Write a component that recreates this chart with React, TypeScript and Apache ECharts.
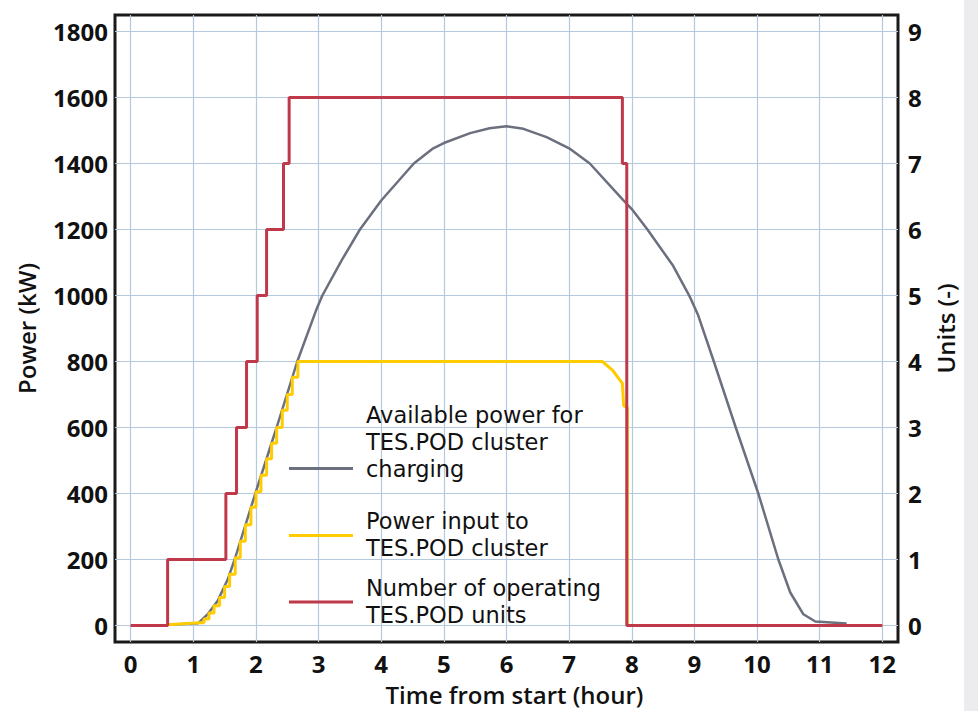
import React, { useEffect, useRef } from 'react';
import * as echarts from 'echarts';

const hourTicks = [0, 1, 2, 3, 4, 5, 6, 7, 8, 9, 10, 11, 12];
const powerTicks = [0, 200, 400, 600, 800, 1000, 1200, 1400, 1600, 1800];
const unitTicks = [0, 1, 2, 3, 4, 5, 6, 7, 8, 9];

// Available power for TES.POD cluster charging [hour, kW]
const availablePower: [number, number][] = [
  [0.59, 2], [1.08, 7], [1.23, 34], [1.39, 75], [1.55, 140], [1.66, 200],
  [1.99, 400], [2.33, 600], [2.66, 800], [2.96, 955], [3.06, 1000], [3.37, 1107],
  [3.66, 1200], [4.0, 1288], [4.52, 1400], [4.83, 1446], [5.0, 1462], [5.42, 1492],
  [5.73, 1507], [6.0, 1513], [6.27, 1505], [6.64, 1480], [7.0, 1446], [7.33, 1400],
  [7.86, 1290], [8.0, 1262], [8.25, 1200], [8.66, 1090], [8.93, 995], [9.06, 940],
  [9.31, 800], [9.66, 600], [10.02, 400], [10.34, 200], [10.53, 100], [10.74, 34],
  [10.93, 12], [11.43, 6],
];

// Power input to TES.POD cluster
const inputStart: [number, number][] = [[0.59, 2], [1.09, 8]];
const inputStepTimes = [1.17, 1.25, 1.33, 1.42, 1.5, 1.58, 1.67, 1.75, 1.83, 1.92, 2.0, 2.08, 2.17, 2.25, 2.33, 2.42, 2.5, 2.58, 2.67];
const inputStepValues = [20, 38, 60, 85, 118, 155, 205, 255, 305, 358, 405, 455, 505, 552, 600, 652, 700, 752, 800];
const inputEnd: [number, number][] = [
  [7.53, 800], [7.7, 772], [7.85, 734], [7.87, 666], [7.93, 660], [7.93, 0], [12, 0],
];

// Number of operating TES.POD units (step changes)
const unitTimes = [0, 0.59, 1.52, 1.69, 1.85, 2.02, 2.17, 2.44, 2.53, 7.85, 7.92, 12];
const unitCounts = [0, 1, 2, 3, 4, 5, 6, 7, 8, 7, 0, 0];

const legendItems = [
  { text: 'Available power for\nTES.POD cluster\ncharging', color: '#6b6f7e' },
  { text: 'Power input to\nTES.POD cluster', color: '#ffcc00' },
  { text: 'Number of operating\nTES.POD units', color: '#c0394a' },
];

const FONT = '"Open Sans", Roboto, sans-serif';
const LEGEND_FONT = '"DejaVu Sans", sans-serif';

function buildInput(): [number, number][] {
  const pts: [number, number][] = [...inputStart];
  let prev = inputStart[inputStart.length - 1][1];
  inputStepTimes.forEach((t, i) => {
    pts.push([t, prev]);
    pts.push([t, inputStepValues[i]]);
    prev = inputStepValues[i];
  });
  return pts.concat(inputEnd);
}

export default function App() {
  const ref = useRef<HTMLDivElement>(null);
  useEffect(() => {
    if (!ref.current) return;
    const chart = echarts.init(ref.current, null, { renderer: 'svg' });
    const tickLabel = {
      fontFamily: FONT, fontSize: 24, fontWeight: 'bold' as const, color: '#111',
      formatter: (v: number) => String(v),
    };
    const nameStyle = { fontFamily: FONT, fontSize: 24, fontWeight: 600 as any, color: '#111' };

    const legendGraphics: any[] = [];
    const lineYs = [468.5, 535.5, 602];
    const textTops = [401.5, 507.5, 574.5];
    legendItems.forEach((item, i) => {
      legendGraphics.push({
        type: 'line',
        shape: { x1: 289, y1: lineYs[i], x2: 353, y2: lineYs[i] },
        style: { stroke: item.color, lineWidth: 3 },
        z: 100,
      });
      legendGraphics.push({
        type: 'text',
        x: 366,
        y: textTops[i],
        style: {
          text: item.text,
          fill: '#111',
          font: `400 22.5px ${LEGEND_FONT}`,
          lineHeight: 27,
          textAlign: 'left',
          verticalAlign: 'top',
        },
        z: 100,
      });
    });

    chart.setOption({
      animation: false,
      backgroundColor: '#ffffff',
      grid: {
        left: 115, right: 80, top: 15, bottom: 67,
        show: true, borderColor: '#1a1a1a', borderWidth: 3, backgroundColor: 'transparent',
      },
      xAxis: {
        type: 'value', min: -0.25, max: 12.25,
        axisLine: { show: false },
        axisTick: { show: false, customValues: hourTicks },
        axisLabel: { ...tickLabel, customValues: hourTicks, margin: 9 },
        splitLine: { show: true, lineStyle: { color: '#b4c9de', width: 1.2 } },
        name: 'Time from start (hour)', nameLocation: 'middle', nameGap: 40,
        nameTextStyle: { ...nameStyle, padding: [0, 0, 0, 16] },
      },
      yAxis: [
        {
          type: 'value', min: -50, max: 1850, position: 'left',
          axisLine: { show: false },
          axisTick: { show: false, customValues: powerTicks },
          axisLabel: { ...tickLabel, customValues: powerTicks, margin: 7 },
          splitLine: { show: true, lineStyle: { color: '#b4c9de', width: 1.2 } },
          name: 'Power (kW)', nameLocation: 'middle', nameGap: 77, nameRotate: 90,
          nameTextStyle: nameStyle,
        },
        {
          type: 'value', min: -0.25, max: 9.25, position: 'right',
          axisLine: { show: false },
          axisTick: { show: false, customValues: unitTicks },
          axisLabel: { ...tickLabel, customValues: unitTicks, margin: 10 },
          splitLine: { show: false },
          name: 'Units (-)', nameLocation: 'middle', nameGap: 35, nameRotate: 90,
          nameTextStyle: nameStyle,
        },
      ],
      graphic: [
        { type: 'rect', shape: { x: 964, y: 0, width: 14, height: 711 }, style: { fill: '#ececee' }, z: 0 },
        ...legendGraphics,
      ],
      series: [
        {
          name: 'Available power for TES.POD cluster charging',
          type: 'line', data: availablePower, showSymbol: false, z: 2,
          lineStyle: { color: '#6b6f7e', width: 2.5 },
        },
        {
          name: 'Power input to TES.POD cluster',
          type: 'line', data: buildInput(), showSymbol: false, z: 3,
          lineStyle: { color: '#ffcc00', width: 3 },
        },
        {
          name: 'Number of operating TES.POD units',
          type: 'line', yAxisIndex: 1, step: 'end',
          data: unitTimes.map((t, i) => [t, unitCounts[i]]),
          showSymbol: false, z: 4,
          lineStyle: { color: '#c0394a', width: 3 },
        },
      ],
    });
    return () => chart.dispose();
  }, []);
  return <div ref={ref} style={{ position: 'fixed', left: 0, top: 0, width: 978, height: 711 }} />;
}
